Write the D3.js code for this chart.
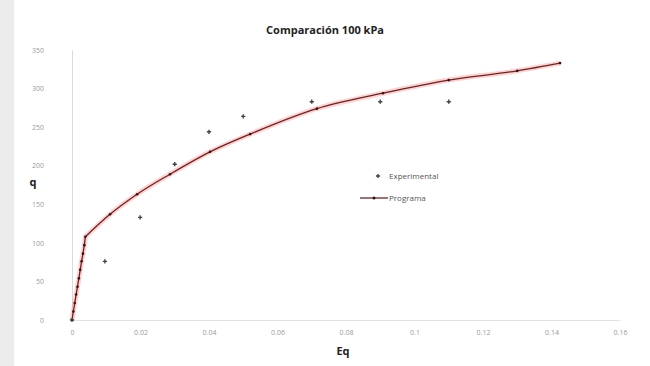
<!DOCTYPE html>
<html>
<head>
<meta charset="utf-8">
<script src="https://cdn.jsdelivr.net/npm/d3@7"></script>
<style>
  body { margin: 0; background: #fff; }
  text { font-family: 'Open Sans', 'DejaVu Sans', sans-serif; }
</style>
</head>
<body>
<div id="chart"></div>
<script>
// values
const experimental = [
  [0.0, 0], [0.0096, 76], [0.0199, 133], [0.030, 202], [0.040, 244],
  [0.050, 264], [0.070, 283], [0.090, 283], [0.110, 283],
];
// elastic part of the model, up to the yield point
const programaElastic = [
  [0.0, 0], [0.0004, 11], [0.0008, 22], [0.0012, 33], [0.0016, 43],
  [0.0020, 54], [0.0024, 65], [0.0028, 76], [0.0032, 86], [0.0036, 97],
  [0.0039, 108],
];
// plastic part, from the yield point on
const programaPlastic = [
  [0.0039, 108], [0.0111, 137], [0.019, 163], [0.0286, 189], [0.0403, 218],
  [0.052, 241], [0.0715, 274], [0.0908, 294], [0.110, 311], [0.130, 323],
  [0.1425, 333],
];
const xTicks = [0, 0.02, 0.04, 0.06, 0.08, 0.1, 0.12, 0.14, 0.16];
const yTicks = [0, 50, 100, 150, 200, 250, 300, 350];

const size = { width: 650, height: 366 };
const margin = { left: 72, top: 50, right: 30, bottom: 46 };

const svg = d3.select('#chart').append('svg')
  .attr('width', size.width)
  .attr('height', size.height);

// outer frame, like the pasted excel chart
svg.append('rect')
  .attr('x', 0).attr('y', 0)
  .attr('width', 14).attr('height', size.height)
  .attr('fill', '#ececec');

const x = d3.scaleLinear()
  .domain([0, 0.16])
  .range([margin.left, 620]);

const y = d3.scaleLinear()
  .domain([0, 350])
  .range([size.height - margin.bottom, margin.top]);

svg.append('text')
  .attr('x', 325).attr('y', 34)
  .attr('text-anchor', 'middle')
  .style('font-size', '11px')
  .style('font-weight', 'bold')
  .attr('fill', '#222')
  .text('Comparación 100 kPa');

// axes
const xAxis = svg.append('g')
  .attr('transform', `translate(0, ${y(0)})`)
  .call(d3.axisBottom(x).tickValues(xTicks).tickSize(0).tickPadding(10)
    .tickFormat((d) => String(d)));
xAxis.select('.domain').attr('stroke', '#e2e2e2');
xAxis.selectAll('text').attr('fill', '#9a9a9a').style('font-size', '7px');

const yAxis = svg.append('g')
  .attr('transform', `translate(${margin.left}, 0)`)
  .call(d3.axisLeft(y).tickValues(yTicks).tickSize(0).tickPadding(28));
yAxis.select('.domain').attr('stroke', '#dadada');
yAxis.selectAll('text').attr('fill', '#9a9a9a').style('font-size', '7px');

svg.append('text')
  .attr('x', 343).attr('y', 355)
  .attr('text-anchor', 'middle')
  .style('font-size', '11px')
  .style('font-weight', 'bold')
  .attr('fill', '#222')
  .text('Eq');

svg.append('text')
  .attr('x', 33).attr('y', 186)
  .attr('text-anchor', 'middle')
  .style('font-size', '11px')
  .style('font-weight', 'bold')
  .attr('fill', '#222')
  .text('q');

// programa line: straight elastic branch + smooth plastic branch
const straight = d3.line()
  .x((d) => x(d[0]))
  .y((d) => y(d[1]));
const smooth = d3.line()
  .x((d) => x(d[0]))
  .y((d) => y(d[1]))
  .curve(d3.curveMonotoneX);
const progPath = straight(programaElastic) + smooth(programaPlastic).replace(/^M/, 'L');

svg.append('path')
  .attr('d', progPath)
  .attr('fill', 'none')
  .attr('stroke', '#ff6b6b')
  .attr('stroke-opacity', 0.3)
  .attr('stroke-width', 5);

svg.append('path')
  .attr('d', progPath)
  .attr('fill', 'none')
  .attr('stroke', '#6e2222')
  .attr('stroke-width', 1.3)
  .attr('stroke-linejoin', 'round');

svg.selectAll('.prog-pt')
  .data(programaElastic.concat(programaPlastic.slice(1)))
  .join('circle')
  .attr('cx', (d) => x(d[0]))
  .attr('cy', (d) => y(d[1]))
  .attr('r', 1.3)
  .attr('fill', '#3a1010');

// experimental markers
const cross = d3.symbol().type(d3.symbolCross).size(10);
svg.selectAll('.exp-pt')
  .data(experimental)
  .join('path')
  .attr('d', cross)
  .attr('transform', (d) => `translate(${x(d[0])}, ${y(d[1])})`)
  .attr('fill', '#444');

// legend
const legend = svg.append('g').attr('transform', 'translate(372, 0)');
legend.append('path')
  .attr('d', cross)
  .attr('transform', 'translate(6, 176)')
  .attr('fill', '#444');
legend.append('text')
  .attr('x', 17).attr('y', 179)
  .style('font-size', '8px')
  .attr('fill', '#555')
  .text('Experimental');
legend.append('line')
  .attr('x1', -12).attr('x2', 16)
  .attr('y1', 198).attr('y2', 198)
  .attr('stroke', '#6e2222')
  .attr('stroke-width', 1.3);
legend.append('circle')
  .attr('cx', 2).attr('cy', 198).attr('r', 1.5)
  .attr('fill', '#3a1010');
legend.append('text')
  .attr('x', 17).attr('y', 201)
  .style('font-size', '8px')
  .attr('fill', '#555')
  .text('Programa');
</script>
</body>
</html>
